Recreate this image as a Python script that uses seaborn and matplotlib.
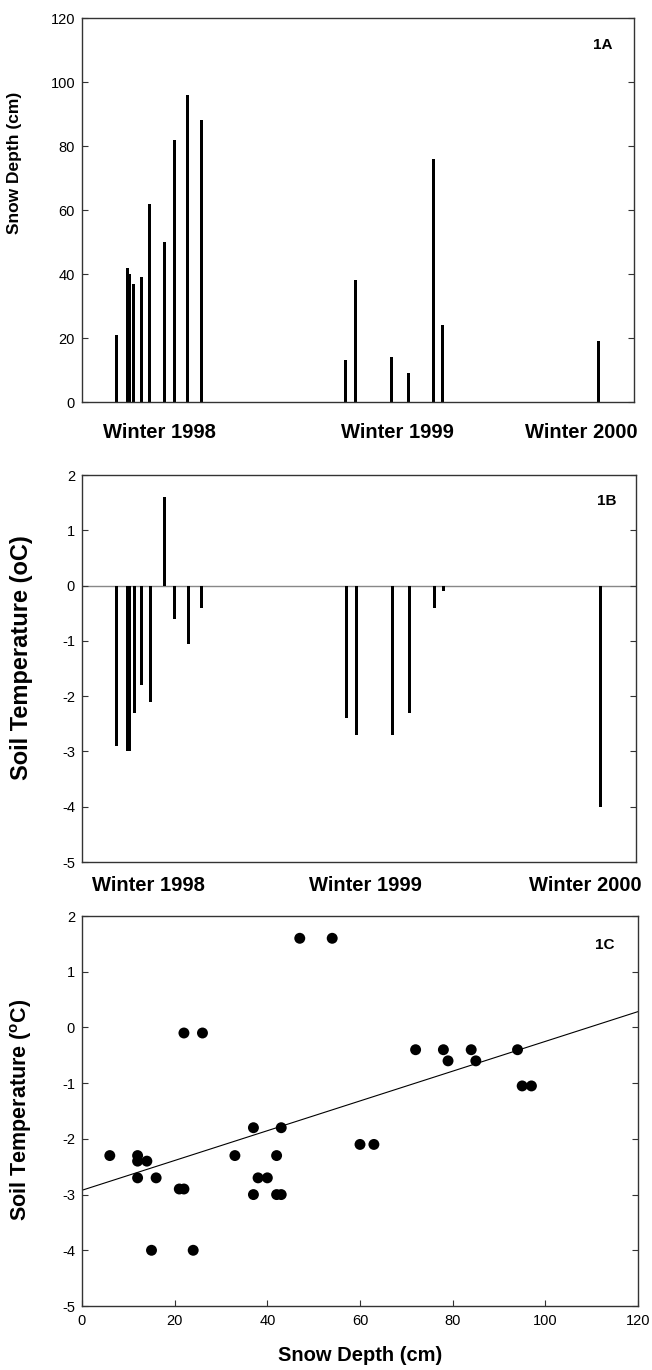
import matplotlib
matplotlib.use("Agg")
import matplotlib.pyplot as plt
import numpy as np
import pandas as pd
import seaborn as sns

# sampling dates on a relative time axis (0-100) covering three winters
time_pos = [6.2, 8.2, 8.6, 9.4, 10.8, 12.3, 14.9, 16.7, 19.2, 21.6,
            47.7, 49.6, 56.1, 59.2, 63.6, 65.3, 93.6]
snow_depth = [21, 42, 40, 37, 39, 62, 50, 82, 96, 88,
              13, 38, 14, 9, 76, 24, 19]
soil_temp = [-2.9, -3.0, -3.0, -2.3, -1.8, -2.1, 1.6, -0.6, -1.05, -0.4,
             -2.4, -2.7, -2.7, -2.3, -0.4, -0.1, -4.0]

winter_labels = ["Winter 1998", "Winter 1999", "Winter 2000"]

# scatter: snow depth vs soil temperature (all sites)
sc_depth = [6, 12, 12, 14, 12, 16, 21, 22, 15, 24, 22, 26, 47, 54, 33, 37, 43,
            42, 38, 40, 37, 42, 43, 60, 63, 72, 78, 79, 84, 85, 94, 95, 97]
sc_temp = [-2.3, -2.3, -2.4, -2.4, -2.7, -2.7, -2.9, -2.9, -4.0, -4.0, -0.1, -0.1,
           1.6, 1.6, -2.3, -1.8, -1.8, -2.3, -2.7, -2.7, -3.0, -3.0, -3.0,
           -2.1, -2.1, -0.4, -0.4, -0.6, -0.4, -0.6, -0.4, -1.05, -1.05]

df_series = pd.DataFrame({"t": time_pos, "depth": snow_depth, "temp": soil_temp})
df_scatter = pd.DataFrame({"depth": sc_depth, "temp": sc_temp})

sns.set_style("ticks")
plt.rcParams["font.family"] = ["Liberation Sans", "DejaVu Sans"]
plt.rcParams["axes.edgecolor"] = "#333333"
plt.rcParams["axes.linewidth"] = 1.0
plt.rcParams["text.color"] = "black"
plt.rcParams["axes.labelcolor"] = "black"
plt.rcParams["xtick.color"] = "black"
plt.rcParams["ytick.color"] = "black"
plt.rcParams["axes.unicode_minus"] = False

W, H = 652, 1370
fig = plt.figure(figsize=(W / 100, H / 100), dpi=100)


def px_axes(left, top, right, bottom):
    return fig.add_axes([left / W, 1 - bottom / H, (right - left) / W, (bottom - top) / H])


def style_y(ax):
    ax.tick_params(axis="y", direction="in", left=True, right=True, length=4,
                   width=0.8, color="#333333", labelsize=10.5, pad=5)


# 1A snow depth
ax1 = px_axes(82, 18, 634, 402)
sns.barplot(data=df_series, x="t", y="depth", native_scale=True, width=1.35,
            color="black", edgecolor="black", linewidth=0, ax=ax1)
ax1.set_xlim(0, 100)
ax1.set_ylim(0, 120)
ax1.set_yticks(np.arange(0, 121, 20))
style_y(ax1)
ax1.set_xticks([14.1, 57.2, 90.4], winter_labels, fontsize=14.5, fontweight="bold")
ax1.tick_params(axis="x", length=0, pad=15)
ax1.set_xlabel("")
ax1.set_ylabel("Snow Depth (cm)", fontsize=12.5, fontweight="bold")
ax1.yaxis.set_label_coords(-0.109, 0.622)
ax1.text(0.944, 0.93, "1A", transform=ax1.transAxes, ha="center", va="center",
         fontsize=11, fontweight="bold")

# 1B soil temperature
ax2 = px_axes(82, 475, 636, 862)
ax2.axhline(0, color="#888888", lw=1.0, zorder=0)
sns.barplot(data=df_series, x="t", y="temp", native_scale=True, width=1.35,
            color="black", edgecolor="black", linewidth=0, ax=ax2)
ax2.set_xlim(0, 100)
ax2.set_ylim(-5, 2)
ax2.set_yticks(np.arange(-5, 3, 1))
style_y(ax2)
ax2.set_xticks([12.0, 51.1, 90.8], winter_labels, fontsize=14.5, fontweight="bold")
ax2.tick_params(axis="x", length=0, pad=10)
ax2.set_xlabel("")
ax2.set_ylabel("Soil Temperature (oC)", fontsize=17, fontweight="bold")
ax2.yaxis.set_label_coords(-0.088, 0.527)
ax2.text(0.948, 0.933, "1B", transform=ax2.transAxes, ha="center", va="center",
         fontsize=11, fontweight="bold")

# 1C scatter with regression
ax3 = px_axes(82, 916, 638, 1306)
ax3.set_xlim(0, 120)
ax3.set_ylim(-5, 2)
sns.regplot(data=df_scatter, x="depth", y="temp", ci=None, truncate=False, ax=ax3,
            scatter_kws={"s": 62, "color": "black", "edgecolors": "none", "alpha": 1},
            line_kws={"color": "black", "lw": 0.8})
ax3.set_xlim(0, 120)
ax3.set_ylim(-5, 2)
ax3.set_xticks(np.arange(0, 121, 20))
ax3.set_yticks(np.arange(-5, 3, 1))
style_y(ax3)
ax3.tick_params(axis="x", direction="in", bottom=True, top=False, length=4,
                width=0.8, color="#333333", labelsize=10.5, pad=6)
ax3.set_xlabel("Snow Depth (cm)", fontsize=14.5, fontweight="bold")
ax3.xaxis.set_label_coords(0.5, -0.103)
ax3.set_ylabel("Soil Temperature ($\\mathregular{^{o}}$C)", fontsize=15.5, fontweight="bold")
ax3.yaxis.set_label_coords(-0.086, 0.503)
ax3.text(0.941, 0.926, "1C", transform=ax3.transAxes, ha="center", va="center",
         fontsize=11, fontweight="bold")

fig.savefig("out.png", dpi=100)
